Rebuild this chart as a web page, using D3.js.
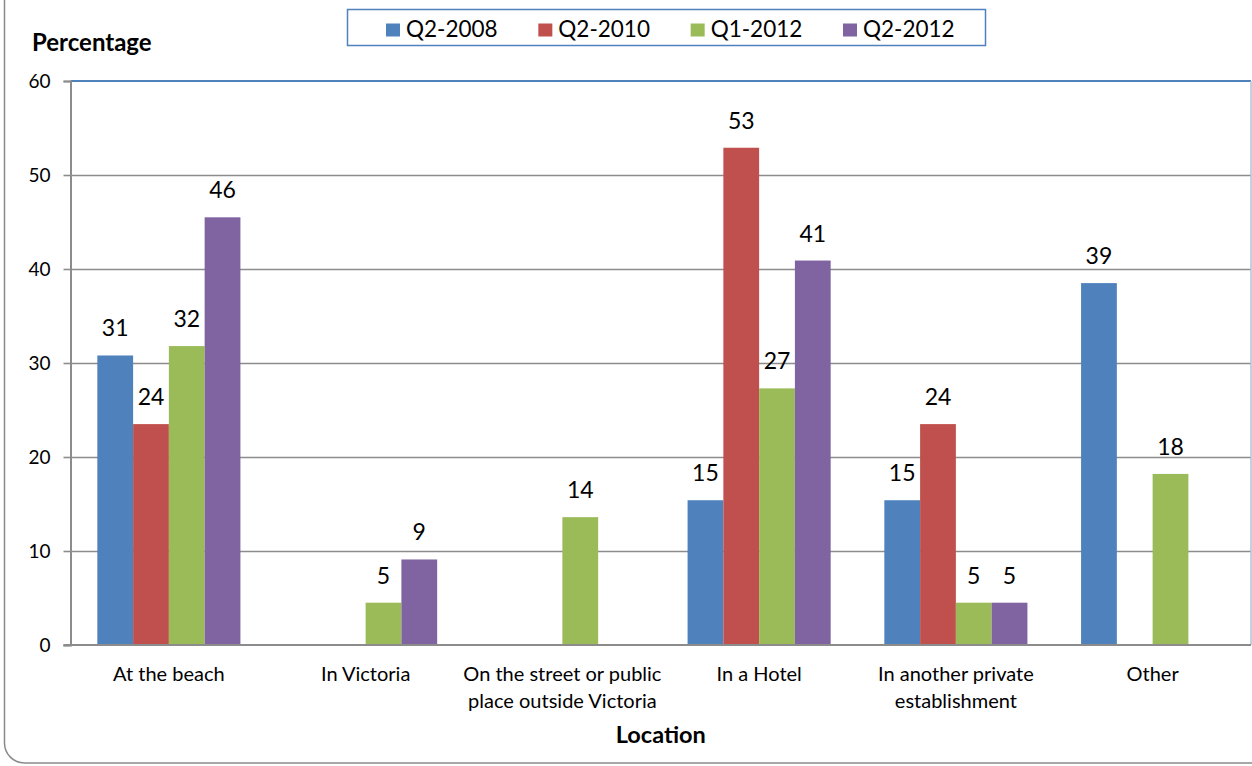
<!DOCTYPE html>
<html>
<head>
<meta charset="utf-8">
<script src="https://cdn.jsdelivr.net/npm/d3@7"></script>
<style>
  body { margin: 0; background: #fff; }
  svg text { font-family: Lato, "Liberation Sans", sans-serif; fill: #000; }
</style>
</head>
<body>
<svg id="chart" width="1252" height="766"></svg>
<script>
// Location categories (line breaks mark where the axis label wraps)
const categories = [
  "At the beach",
  "In Victoria",
  "On the street or public\nplace outside Victoria",
  "In a Hotel",
  "In another private\nestablishment",
  "Other"
];

// Survey periods
const seriesNames = ["Q2-2008", "Q2-2010", "Q1-2012", "Q2-2012"];

// Percentage of respondents per location (null = no response recorded)
const q2_2008 = [30.8, null, null, 15.4, 15.4, 38.5];
const q2_2010 = [23.5, null, null, 52.9, 23.5, null];
const q1_2012 = [31.8, 4.5, 13.6, 27.3, 4.5, 18.2];
const q2_2012 = [45.5, 9.1, null, 40.9, 4.5, null];

const yTicks = [0, 10, 20, 30, 40, 50, 60];
const seriesColors = ["#4F81BD", "#C0504D", "#9BBB59", "#8064A2"];

const seriesValues = [q2_2008, q2_2010, q1_2012, q2_2012];

const plot = { left: 70.5, right: 1251, top: 81, bottom: 645 };

const svg = d3.select("#chart");

// Outer chart frame with rounded corners
svg.append("rect")
  .attr("x", 4.5).attr("y", -40)
  .attr("width", 1320).attr("height", 803)
  .attr("rx", 20).attr("ry", 20)
  .attr("fill", "#fff")
  .attr("stroke", "#8a8a8a")
  .attr("stroke-width", 1.5);

const x0 = d3.scaleBand()
  .domain(categories)
  .range([plot.left, plot.right])
  .paddingInner(0).paddingOuter(0);

// Gap of 150% of a bar width between clusters
const gapRatio = 1.5 / (seriesNames.length + 1.5);
const x1 = d3.scaleBand()
  .domain(seriesNames)
  .range([x0.bandwidth() * gapRatio / 2, x0.bandwidth() * (1 - gapRatio / 2)])
  .padding(0);

const y = d3.scaleLinear().domain([0, 60]).range([plot.bottom, plot.top]);

// Horizontal gridlines
const grid = svg.append("g")
  .attr("transform", `translate(${plot.left},0)`)
  .call(d3.axisLeft(y).tickValues(yTicks.filter(v => v > 0 && v < 60))
    .tickSize(-(plot.right - plot.left)).tickFormat(""));
grid.select(".domain").remove();
grid.selectAll(".tick line").attr("stroke", "#8c8c8c").attr("stroke-width", 1.6);

// Plot area border: blue top edge, pale right edge
svg.append("line")
  .attr("x1", plot.left).attr("x2", plot.right)
  .attr("y1", y(60)).attr("y2", y(60))
  .attr("stroke", "#4F81BD").attr("stroke-width", 2);
svg.append("line")
  .attr("x1", plot.right).attr("x2", plot.right)
  .attr("y1", y(60)).attr("y2", y(0))
  .attr("stroke", "#b3c1dc").attr("stroke-width", 1.5);

// Bars
const rows = [];
categories.forEach((c, ci) => {
  seriesNames.forEach((s, si) => {
    const v = seriesValues[si][ci];
    if (v !== null) rows.push({ cat: c, series: s, value: v, color: seriesColors[si] });
  });
});

const fmt = d3.format(".0f");

svg.append("g").selectAll("rect")
  .data(rows)
  .join("rect")
  .attr("x", d => x0(d.cat) + x1(d.series))
  .attr("width", x1.bandwidth())
  .attr("y", d => y(d.value))
  .attr("height", d => y(0) - y(d.value))
  .attr("fill", d => d.color);

// Value labels above the bars
svg.append("g").selectAll("text")
  .data(rows)
  .join("text")
  .attr("x", d => x0(d.cat) + x1(d.series) + x1.bandwidth() / 2)
  .attr("y", d => y(d.value) - 19)
  .attr("text-anchor", "middle")
  .style("font-size", "23px")
  .text(d => fmt(d.value));

// Y axis
const yAxis = svg.append("g")
  .attr("transform", `translate(${plot.left},0)`)
  .call(d3.axisLeft(y).tickValues(yTicks).tickSize(7).tickPadding(13));
yAxis.select(".domain").attr("stroke", "#8c8c8c").attr("stroke-width", 2);
yAxis.selectAll(".tick line").attr("stroke", "#8c8c8c").attr("stroke-width", 1.6);
yAxis.selectAll(".tick text").style("font-size", "19px").attr("font-family", null);

// X axis line and category labels
const xAxis = svg.append("g")
  .attr("transform", `translate(0,${plot.bottom})`)
  .call(d3.axisBottom(x0).tickSize(0).tickFormat(""));
xAxis.select(".domain")
  .attr("d", `M${plot.left - 7},0H${plot.right}`)
  .attr("stroke", "#8c8c8c").attr("stroke-width", 2);

xAxis.selectAll(".tick").each(function (c) {
  const t = d3.select(this).append("text")
    .attr("text-anchor", "middle")
    .style("font-size", "20px");
  c.split("\n").forEach((line, i) => {
    t.append("tspan").attr("x", 0).attr("y", 36 + i * 26.5).text(line);
  });
});

// Axis titles
svg.append("text")
  .attr("x", 32).attr("y", 51)
  .style("font-size", "24px").style("font-weight", "bold")
  .text("Percentage");

svg.append("text")
  .attr("x", (plot.left + plot.right) / 2).attr("y", 743)
  .attr("text-anchor", "middle")
  .style("font-size", "23.5px").style("font-weight", "bold")
  .text("Location");

// Legend
const legend = svg.append("g");
legend.append("rect")
  .attr("x", 347.5).attr("y", 9.5)
  .attr("width", 638).attr("height", 36)
  .attr("fill", "#fff")
  .attr("stroke", "#4F81BD").attr("stroke-width", 1.5);

const legendX = d3.scalePoint().domain(seriesNames).range([386, 843]);
const items = legend.selectAll("g.item")
  .data(seriesNames)
  .join("g")
  .attr("class", "item")
  .attr("transform", d => `translate(${legendX(d)},0)`);
items.append("rect")
  .attr("x", 0).attr("y", 23.5)
  .attr("width", 14).attr("height", 13)
  .attr("fill", (d, i) => seriesColors[i]);
items.append("text")
  .attr("x", 20).attr("y", 36.5)
  .style("font-size", "22.5px")
  .text(d => d);
</script>
</body>
</html>
